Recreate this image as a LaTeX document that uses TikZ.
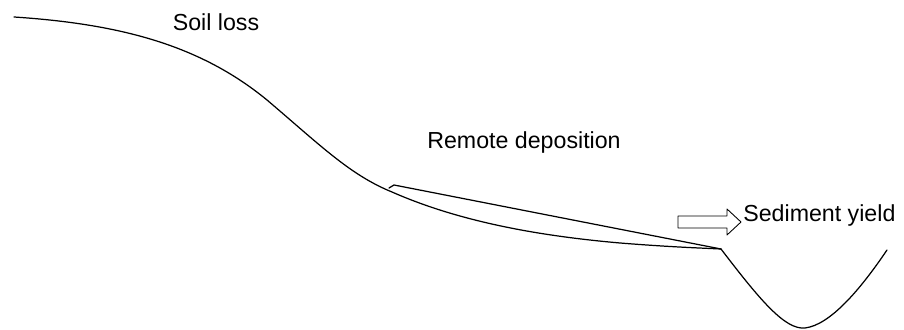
\documentclass[tikz,border=0pt]{standalone}
\usepackage{fontspec}
\setmainfont{Liberation Sans}
\usetikzlibrary{positioning}
\tikzset{
  every picture/.style={line cap=round, line join=round},
  ground/.style={line width=0.7pt, black},
  wedge/.style={line width=0.7pt, black},
  label/.style={font=\fontsize{13.2}{15}\selectfont, inner sep=0pt},
  flow/.style={line width=0.5pt, black, fill=white},
}

\begin{document}
\begin{tikzpicture}[x={(0.02cm,0cm)}, y={(0cm,-0.02cm)}]
  \useasboundingbox (0,0) rectangle (904,330);
  % hillslope profile down to the valley toe
  \draw[ground] (14,17) .. controls (120,24) and (200,45) .. (267,100)
    .. controls (320,145) and (350,175) .. (392,192)
    .. controls (460,222) and (540,236) .. (620,243)
    .. controls (670,247) and (700,248) .. (721,249);
  % channel cross-section
  \draw[ground] (721,249) .. controls (760,300) and (785,330) .. (805,328)
    .. controls (830,325) and (860,290) .. (887,250);
  % deposition wedge on the footslope
  \draw[wedge] (389,188) -- (394,185) -- (721,249);
  % outflow arrow
  \draw[flow] (678,216) -- (727,216) -- (727,209) -- (741,222)
    -- (727,235) -- (727,228) -- (678,228) -- cycle;
  % labels
  \node[label] (loss) at (216,22) {Soil loss};
  \node[label] (depo) at (524,143) {Remote deposition};
  \node[label, anchor=west] (yield) at (743,216) {Sediment yield};
\end{tikzpicture}
\end{document}
